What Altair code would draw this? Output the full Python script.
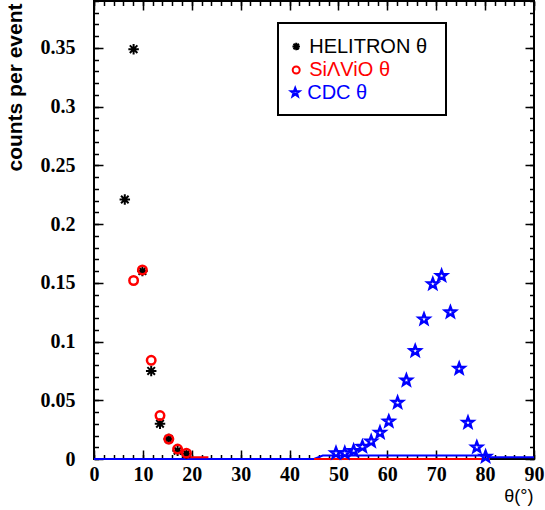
import math
import altair as alt
import pandas as pd

# Bin centres (degrees) and normalised counts per event for each detector
helitron_theta = [6.3, 8.1, 9.9, 11.7, 13.5, 15.3, 17.1, 18.9]
helitron_counts = [0.221, 0.349, 0.160, 0.075, 0.030, 0.017, 0.007, 0.0045]

silvio_theta = [8.1, 9.9, 11.7, 13.5, 15.3, 17.1, 18.9]
silvio_counts = [0.152, 0.161, 0.084, 0.037, 0.017, 0.0085, 0.005]

cdc_theta = [49.5, 51.3, 53.1, 54.9, 56.7, 58.5, 60.3, 62.1, 63.9,
             65.7, 67.5, 69.3, 71.1, 72.9, 74.7, 76.5, 78.3, 80.1]
cdc_counts = [0.005, 0.005, 0.007, 0.0105, 0.015, 0.0225, 0.032, 0.048, 0.067,
              0.092, 0.119, 0.149, 0.156, 0.125, 0.077, 0.031, 0.010, 0.002]

# Low-level tails running along the baseline
cdc_tail_theta = [0, 45, 46.8, 80, 81, 90]
cdc_tail_counts = [0, 0, 0.003, 0.003, 0.0015, 0.0015]
silvio_tail_theta = [18.9, 23.4, 45, 81]
silvio_tail_counts = [0.0015, 0.0015, 0, 0]
silvio_tail_part = [1, 1, 2, 2]

# Axis ticks and labels
x_major = [0, 10, 20, 30, 40, 50, 60, 70, 80, 90]
x_minor = list(range(0, 91, 2))
y_major = [0, 0.05, 0.1, 0.15, 0.2, 0.25, 0.3, 0.35]
y_minor = [round(0.01 * i, 2) for i in range(40)]

labels = ["HELITRON θ", "SiΛViO θ", "CDC θ"]
colors = ["black", "red", "blue"]

W, H = 440, 458
X_DOMAIN = [0, 90]
Y_DOMAIN = [0, 0.39]

# Marker shapes (unit box -1..1)
ASTERISK = "M-1,0L1,0M0,-1L0,1M-0.72,-0.72L0.72,0.72M-0.72,0.72L0.72,-0.72"
_pts = []
for k in range(10):
    r = 1.0 if k % 2 == 0 else 0.42
    a = -math.pi / 2 + k * math.pi / 5
    _pts.append(f"{r * math.cos(a):.3f},{r * math.sin(a):.3f}")
STAR = "M" + "L".join(_pts) + "Z"

df_h = pd.DataFrame({"theta": helitron_theta, "counts": helitron_counts, "det": labels[0]})
df_s = pd.DataFrame({"theta": silvio_theta, "counts": silvio_counts, "det": labels[1]})
df_c = pd.DataFrame({"theta": cdc_theta, "counts": cdc_counts, "det": labels[2]})
df_ct = pd.DataFrame({"theta": cdc_tail_theta, "counts": cdc_tail_counts})
df_st = pd.DataFrame({"theta": silvio_tail_theta, "counts": silvio_tail_counts,
                      "part": silvio_tail_part})

LABEL_FONT = "Liberation Serif"
TEXT_FONT = "Liberation Sans"


def x_enc(axis):
    return alt.X("theta:Q", scale=alt.Scale(domain=X_DOMAIN, nice=False, zero=False), axis=axis)


def y_enc(axis):
    return alt.Y("counts:Q", scale=alt.Scale(domain=Y_DOMAIN, nice=False, zero=False), axis=axis)


def tick_axis(orient, offset, values, size):
    # tick-only axis pushed inside the frame so the ticks point inwards
    return alt.Axis(orient=orient, offset=offset, values=values, labels=False,
                    domain=False, ticks=True, tickSize=size, tickWidth=1.5,
                    tickColor="black", grid=False, title=None)


x_label_axis = alt.Axis(
    orient="bottom", values=x_major, format="d", labelFont=LABEL_FONT,
    labelFontWeight="bold", labelFontSize=20, labelColor="black", labelPadding=5,
    labelFlush=False, labelOverlap=False, ticks=False, tickSize=0, domain=False,
    grid=False, title="θ(°)", titleFont=TEXT_FONT, titleFontWeight="normal",
    titleFontSize=18, titleColor="black", titleX=439, titleY=42,
    titleAlign="right", titleBaseline="alphabetic")

y_label_axis = alt.Axis(
    orient="left", values=y_major, format="~g", labelFont=LABEL_FONT,
    labelFontWeight="bold", labelFontSize=20, labelColor="black", labelPadding=19,
    labelOverlap=False, labelFlush=False, ticks=False, tickSize=0, domain=False,
    grid=False, title="counts per event", titleFont=TEXT_FONT,
    titleFontWeight="bold", titleFontSize=21, titleColor="black",
    titleAngle=270, titleX=-72.5, titleY=2, titleAlign="right",
    titleBaseline="alphabetic")


def legend(label_offset, lx, ly, color, shape, size, sw):
    return alt.Legend(orient="none", legendX=lx, legendY=ly, title=None,
                      padding=0, labelFont=TEXT_FONT, labelFontSize=20,
                      labelColor=color, labelOffset=label_offset,
                      symbolType=shape, symbolSize=size, symbolStrokeWidth=sw,
                      symbolStrokeColor=color, symbolFillColor="transparent",
                      symbolOpacity=1, labelLimit=0)


blue_tail = alt.Chart(df_ct).mark_line(color="blue", strokeWidth=2).encode(
    x=x_enc(x_label_axis), y=y_enc(y_label_axis))

red_tail = alt.Chart(df_st).mark_line(color="red", strokeWidth=2).encode(
    x=x_enc(tick_axis("top", -H, x_major, 9)),
    y=y_enc(tick_axis("right", -W, y_major, 9)),
    detail="part:N")

helitron = alt.Chart(df_h).mark_point(
    shape=ASTERISK, filled=False, size=110, strokeWidth=2, opacity=1).encode(
    x=x_enc(tick_axis("top", -H, x_minor, 4.5)),
    y=y_enc(tick_axis("right", -W, y_minor, 4.5)),
    color=alt.Color("det:N", scale=alt.Scale(domain=[labels[0]], range=[colors[0]]),
                    legend=legend(3, 192.2, 35.5, colors[0], ASTERISK, 56, 2)))

silvio = alt.Chart(df_s).mark_point(
    shape="circle", filled=False, size=72, strokeWidth=2.5, opacity=1).encode(
    x=x_enc(tick_axis("bottom", -H, x_major, 9)),
    y=y_enc(tick_axis("left", -W, y_major, 9)),
    color=alt.Color("det:N", scale=alt.Scale(domain=[labels[1]], range=[colors[1]]),
                    legend=legend(3, 192.2, 59, colors[1], "circle", 49, 2)))

cdc = alt.Chart(df_c).mark_point(
    shape=STAR, filled=False, size=120, strokeWidth=2.5, opacity=1).encode(
    x=x_enc(tick_axis("bottom", -H, x_minor, 4.5)),
    y=y_enc(tick_axis("left", -W, y_minor, 4.5)),
    color=alt.Color("det:N", scale=alt.Scale(domain=[labels[2]], range=[colors[2]]),
                    legend=legend(2, 191.2, 81.5, colors[2], STAR, 64, 2.5)))

legend_box = alt.Chart(pd.DataFrame({"k": [0]})).mark_rect(
    filled=False, stroke="black", strokeWidth=2).encode(
    x=alt.value(184), x2=alt.value(352), y=alt.value(22), y2=alt.value(114))

chart = alt.layer(blue_tail, red_tail, helitron, silvio, cdc, legend_box).resolve_scale(
    color="independent").resolve_axis(x="independent", y="independent").resolve_legend(
    color="independent").properties(
    width=W, height=H,
    padding={"left": 94, "top": 1, "right": 11, "bottom": 51},
    autosize=alt.AutoSizeParams(type="none"),
    background="white",
).configure_view(stroke="black", strokeWidth=2)

chart.save("out.html", embed_options={"renderer": "svg", "actions": False})
